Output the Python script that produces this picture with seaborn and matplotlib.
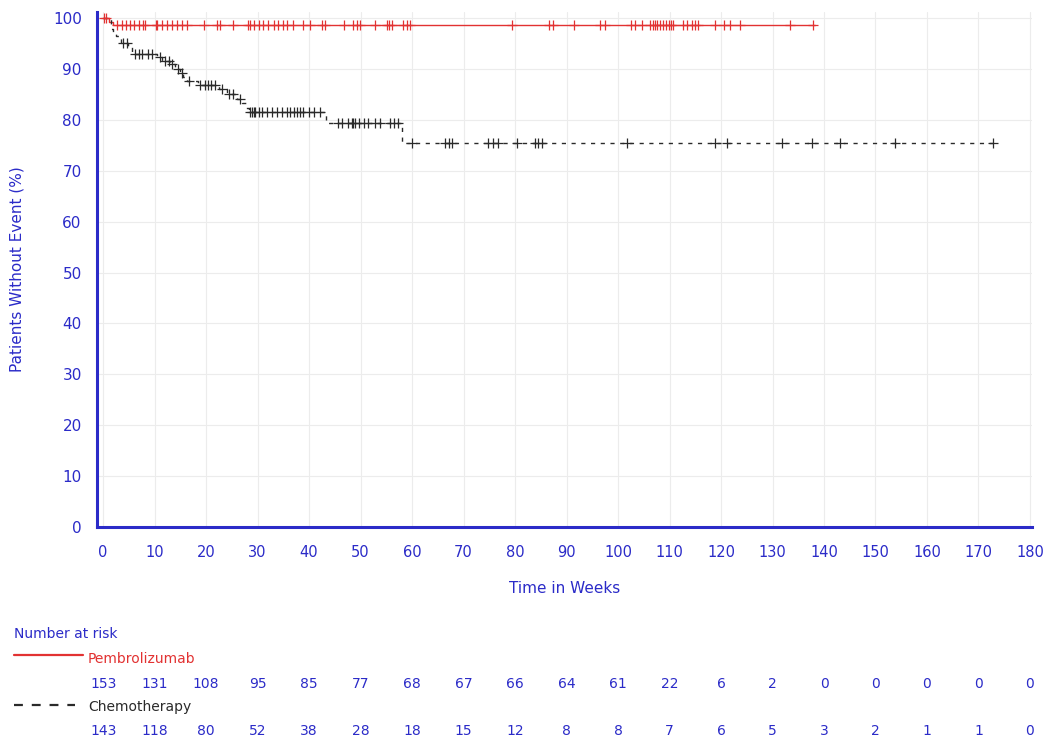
import numpy as np
import matplotlib
matplotlib.use("Agg")
import matplotlib.pyplot as plt
import matplotlib.transforms as mtransforms
from matplotlib.lines import Line2D
import seaborn as sns

# Kaplan-Meier data (weeks, % without event)
pembro_event_t = [1.2, 2.0]
pembro_event_s = [99.3, 98.7]
pembro_end = 138.3
pembro_censor = [0.1, 0.6, 2.7, 3.6, 4.5, 5.2, 6.0, 6.9, 7.8, 8.2, 10.3, 10.5, 11.4,
                 12.4, 13.3, 14.3, 15.3, 16.3, 19.5, 22.1, 22.7, 25.3, 28.2, 28.6,
                 29.2, 30.2, 31.1, 32.1, 33.1, 34.0, 35.0, 35.7, 36.9, 38.9, 40.2,
                 42.5, 43.1, 46.7, 48.6, 49.3, 49.9, 52.8, 55.1, 55.5, 56.1, 58.3,
                 59.0, 59.6, 79.4, 86.5, 87.4, 91.5, 96.5, 97.5, 102.5, 103.3, 104.6,
                 106.2, 106.7, 107.2, 107.6, 108.2, 108.7, 109.3, 109.8, 110.2, 110.7,
                 112.7, 113.3, 114.3, 114.9, 115.6, 118.8, 120.6, 121.7, 123.7, 133.4,
                 137.9]

chemo_event_t = [1.5, 2.0, 2.5, 3.5, 4.8, 5.6, 10.5, 11.5, 13.0, 14.0, 15.0, 15.6,
                 16.2, 18.5, 22.5, 24.0, 26.0, 27.0, 27.8, 28.3, 43.2, 58.0]
chemo_event_s = [97.9, 97.2, 96.5, 95.1, 94.4, 93.0, 92.3, 91.6, 90.9, 90.1, 89.3,
                 88.5, 87.7, 86.9, 86.0, 85.1, 84.2, 83.3, 82.4, 81.5, 79.3, 75.5]
chemo_end = 172.9
chemo_censor = [3.9, 4.6, 6.2, 6.9, 7.5, 8.8, 9.4, 11.1, 12.0, 12.7, 13.3, 14.6, 15.3,
                16.6, 18.8, 19.8, 20.4, 21.0, 21.7, 23.0, 24.5, 25.3, 26.5, 28.6,
                28.9, 29.2, 29.5, 30.2, 30.8, 31.8, 32.8, 33.7, 34.7, 35.7, 36.3,
                37.0, 37.6, 38.3, 38.9, 39.9, 40.9, 42.1, 45.7, 46.3, 47.6, 48.3,
                48.5, 48.9, 49.6, 50.6, 51.5, 52.8, 53.8, 55.7, 56.4, 57.3, 59.9,
                66.4, 67.1, 67.7, 74.8, 75.8, 76.7, 80.3, 83.9, 84.5, 85.2, 101.7,
                118.8, 121.1, 131.8, 137.6, 143.1, 153.8, 172.9]

risk_times = list(range(0, 181, 10))
pembro_risk = [153, 131, 108, 95, 85, 77, 68, 67, 66, 64, 61, 22, 6, 2, 0, 0, 0, 0, 0]
chemo_risk = [143, 118, 80, 52, 38, 28, 18, 15, 12, 8, 8, 7, 6, 5, 3, 2, 1, 1, 0]

RED = '#e23232'
BLACK = '#2a2a2a'
BLUE = '#2b2bc8'


def step_arrays(event_t, event_s, end):
    x = [0.0] + list(event_t) + [end]
    y = [100.0] + list(event_s) + [event_s[-1]]
    return np.array(x), np.array(y)


def level_at(t, event_t, event_s):
    levels = np.concatenate([[100.0], event_s])
    idx = np.searchsorted(event_t, t, side='right')
    return levels[idx]


sns.set_style("white")
plt.rcParams['font.family'] = ['DejaVu Sans']

fig = plt.figure(figsize=(10.52, 7.42), dpi=100)
ax = fig.add_axes([0.0922, 0.2898, 0.8888, 0.694])

for et, es, end, cens, color, ls in [
        (pembro_event_t, pembro_event_s, pembro_end, pembro_censor, RED, '-'),
        (chemo_event_t, chemo_event_s, chemo_end, chemo_censor, BLACK, (0, (3, 4)))]:
    sx, sy = step_arrays(et, es, end)
    sns.lineplot(x=sx, y=sy, ax=ax, color=color, linewidth=1.0, linestyle=ls,
                 drawstyle='steps-post', estimator=None, sort=False)
    cx = np.array(cens)
    cy = level_at(cx, np.array(et), np.array(es))
    sns.scatterplot(x=cx, y=cy, ax=ax, marker='+', color=color, s=45,
                    linewidth=0.9, zorder=3)

ax.set_xlim(-1.2, 180.4)
ax.set_ylim(0, 101.2)
ax.set_xticks(risk_times)
ax.set_yticks(range(0, 101, 10))
ax.set_yticks(range(5, 100, 10), minor=True)
ax.grid(True, which='major', color='#ececec', linewidth=0.8)
ax.set_axisbelow(True)

for side in ['top', 'right']:
    ax.spines[side].set_visible(False)
for side in ['left', 'bottom']:
    ax.spines[side].set_color(BLUE)
    ax.spines[side].set_linewidth(2.2)

ax.tick_params(axis='x', which='major', direction='out', length=5, width=1.2,
               color=BLUE, labelcolor=BLUE, labelsize=10.5, pad=8)
ax.tick_params(axis='y', which='major', direction='out', length=9, width=1.2,
               color=BLUE, labelcolor=BLUE, labelsize=11, pad=2)
ax.tick_params(axis='y', which='minor', direction='out', length=5, width=1.0,
               color=BLUE)

ax.set_xlabel('Time in Weeks', color=BLUE, fontsize=11)
ax.set_ylabel('Patients Without Event (%)', color=BLUE, fontsize=11)
ax.xaxis.set_label_coords(0.5, -0.104)
ax.yaxis.set_label_coords(-0.077, 0.5)

# Number at risk table
fig.text(14 / 1052, 1 - 634 / 742, 'Number at risk', color=BLUE, fontsize=10,
         ha='left', va='center')
fig.add_artist(Line2D([14 / 1052, 83 / 1052], [1 - 655 / 742] * 2, color=RED,
                      linewidth=1.6, transform=fig.transFigure))
fig.text(88 / 1052, 1 - 659 / 742, 'Pembrolizumab', color=RED, fontsize=10,
         ha='left', va='center')
fig.add_artist(Line2D([14 / 1052, 75 / 1052], [1 - 705 / 742] * 2, color=BLACK,
                      linewidth=1.6, linestyle=(0, (4, 4)), transform=fig.transFigure))
fig.text(88 / 1052, 1 - 707 / 742, 'Chemotherapy', color=BLACK, fontsize=10,
         ha='left', va='center')

trans = mtransforms.blended_transform_factory(ax.transData, fig.transFigure)
for t, n in zip(risk_times, pembro_risk):
    ax.text(t, 1 - 684 / 742, str(n), transform=trans, color=BLUE, fontsize=10,
            ha='center', va='center', clip_on=False)
for t, n in zip(risk_times, chemo_risk):
    ax.text(t, 1 - 731 / 742, str(n), transform=trans, color=BLUE, fontsize=10,
            ha='center', va='center', clip_on=False)

fig.savefig('out.png', dpi=100)
